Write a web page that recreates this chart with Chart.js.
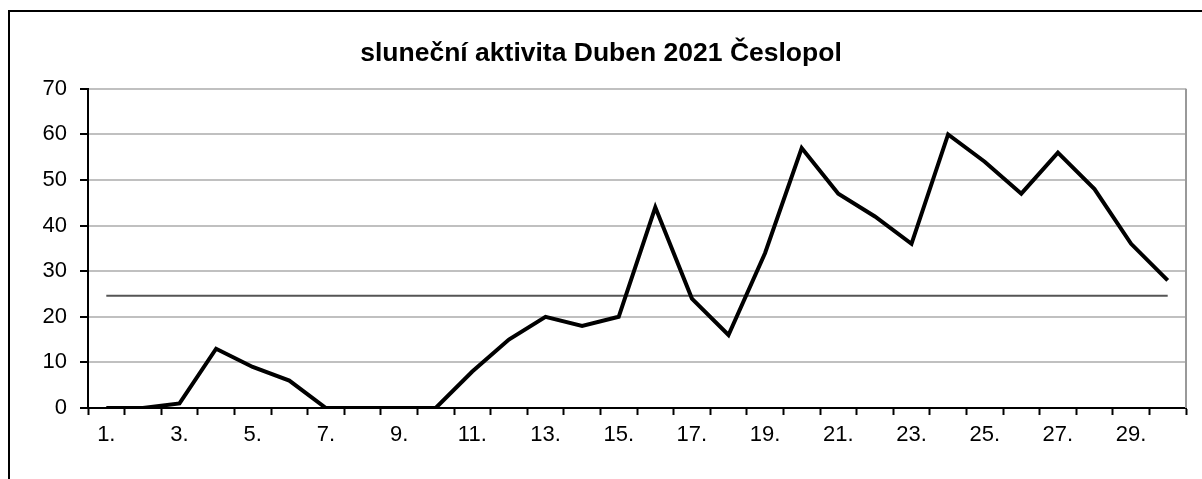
<!DOCTYPE html>
<html>
<head>
<meta charset="utf-8">
<script src="https://cdn.jsdelivr.net/npm/chart.js@4.4.0/dist/chart.umd.min.js"></script>
<style>
  html, body { margin: 0; padding: 0; background: #fff; }
  #wrap { width: 1202px; height: 479px; position: relative; }
</style>
</head>
<body>
<div id="wrap"><canvas id="myChart" width="1202" height="479"></canvas></div>
<script>
// data
const days = ["1.", "2.", "3.", "4.", "5.", "6.", "7.", "8.", "9.", "10.",
  "11.", "12.", "13.", "14.", "15.", "16.", "17.", "18.", "19.", "20.",
  "21.", "22.", "23.", "24.", "25.", "26.", "27.", "28.", "29.", "30."];
const activity = [0, 0, 1, 13, 9, 6, 0, 0, 0, 0,
  8, 15, 20, 18, 20, 44, 24, 16, 34, 57,
  47, 42, 36, 60, 54, 47, 56, 48, 36, 28];
const average = 24.6;
const yTicks = [0, 10, 20, 30, 40, 50, 60, 70];

const FONT = "'Liberation Sans', Arial, sans-serif";

// outer frame + gray right edge of plot area
const framePlugin = {
  id: "frame",
  beforeDraw(chart) {
    const c = chart.ctx;
    c.save();
    c.strokeStyle = "#000";
    c.lineWidth = 2;
    c.beginPath();
    c.moveTo(9, 479);
    c.lineTo(9, 11);
    c.lineTo(1202, 11);
    c.stroke();
    c.restore();
  },
  afterDraw(chart) {
    const a = chart.chartArea;
    const c = chart.ctx;
    c.save();
    c.strokeStyle = "#999";
    c.lineWidth = 2;
    c.beginPath();
    c.moveTo(a.right, a.top);
    c.lineTo(a.right, a.bottom);
    c.stroke();
    c.restore();
  },
};

const ctx = document.getElementById("myChart").getContext("2d");
new Chart(ctx, {
  type: "line",
  data: {
    labels: days,
    datasets: [
      {
        label: "aktivita",
        data: activity,
        borderColor: "#000",
        borderWidth: 4,
        pointRadius: 0,
        tension: 0,
      },
      {
        label: "průměr",
        data: [{ x: days[0], y: average }, { x: days[days.length - 1], y: average }],
        borderColor: "#555",
        borderWidth: 2,
        pointRadius: 0,
        tension: 0,
      },
    ],
  },
  options: {
    responsive: false,
    animation: false,
    layout: { padding: { left: 16, right: 16, top: 0, bottom: 0 } },
    plugins: {
      legend: { display: false },
      tooltip: { enabled: false },
      title: {
        display: true,
        text: "sluneční aktivita Duben 2021 Česlopol",
        color: "#000",
        font: { family: FONT, size: 26.5, weight: "bold" },
        padding: { top: 38, bottom: 19 },
      },
    },
    scales: {
      x: {
        offset: true,
        grid: { offset: true, drawOnChartArea: false, tickLength: 7, tickColor: "#000", tickWidth: 2 },
        border: { color: "#000", width: 2 },
        ticks: {
          autoSkip: false,
          maxRotation: 0,
          color: "#000",
          padding: 7,
          font: { family: FONT, size: 22 },
          callback: (v, i) => (i % 2 === 0 ? days[i] : ""),
        },
        afterFit: (s) => { s.height = 71; },
      },
      y: {
        min: 0,
        max: 70,
        afterBuildTicks: (s) => { s.ticks = yTicks.map((v) => ({ value: v })); },
        grid: { color: "#c0c0c0", lineWidth: 2, tickLength: 8, tickColor: "#000", tickWidth: 2 },
        border: { color: "#000", width: 2 },
        ticks: { color: "#000", padding: 13, font: { family: FONT, size: 22 } },
        afterFit: (s) => { s.width = 72; },
      },
    },
  },
  plugins: [framePlugin],
});
</script>
</body>
</html>
